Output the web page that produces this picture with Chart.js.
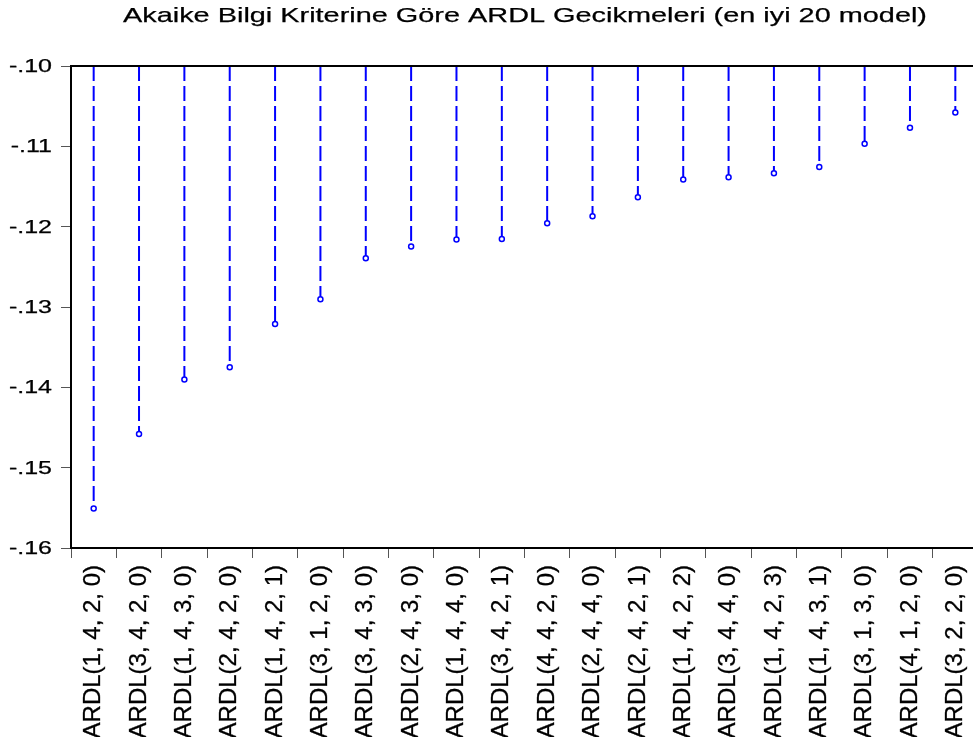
<!DOCTYPE html>
<html>
<head>
<meta charset="utf-8">
<title>ARDL Gecikmeleri</title>
<script src="https://cdn.jsdelivr.net/npm/chart.js@4/dist/chart.umd.min.js"></script>
<style>
  html, body { margin: 0; padding: 0; background: #fff; overflow: hidden; }
  #wrap { position: relative; width: 1000px; height: 737px; }
</style>
</head>
<body>
<div id="wrap"><canvas id="c"></canvas></div>
<script>
// Model labels, ordered from best (lowest AIC) to 20th
const models = [
  'ARDL(1, 4, 2, 0)', 'ARDL(3, 4, 2, 0)', 'ARDL(1, 4, 3, 0)', 'ARDL(2, 4, 2, 0)',
  'ARDL(1, 4, 2, 1)', 'ARDL(3, 1, 2, 0)', 'ARDL(3, 4, 3, 0)', 'ARDL(2, 4, 3, 0)',
  'ARDL(1, 4, 4, 0)', 'ARDL(3, 4, 2, 1)', 'ARDL(4, 4, 2, 0)', 'ARDL(2, 4, 4, 0)',
  'ARDL(2, 4, 2, 1)', 'ARDL(1, 4, 2, 2)', 'ARDL(3, 4, 4, 0)', 'ARDL(1, 4, 2, 3)',
  'ARDL(1, 4, 3, 1)', 'ARDL(3, 1, 3, 0)', 'ARDL(4, 1, 2, 0)', 'ARDL(3, 2, 2, 0)'
];

// Akaike information criterion for each model
const aicValues = [
  -0.15507, -0.14580, -0.13904, -0.13751, -0.13211, -0.12904, -0.12393, -0.12248,
  -0.12161, -0.12152, -0.11957, -0.11870, -0.11634, -0.11413, -0.11385, -0.11335,
  -0.11256, -0.10969, -0.10770, -0.10579
];

// Value axis ticks and their printed form
const yTickValues = [-0.10, -0.11, -0.12, -0.13, -0.14, -0.15, -0.16];
const yTickLabels = ['-.10', '-.11', '-.12', '-.13', '-.14', '-.15', '-.16'];

const chartTitle = 'Akaike Bilgi Kriterine Göre ARDL Gecikmeleri (en iyi 20 model)';

const FONT = '"Liberation Sans", Arial, Helvetica, sans-serif';
const BLUE = '#0000ff';

// Text set in a horizontally widened face, lightly thickened
function wideText(ctx, text, x, y, sx) {
  ctx.save();
  ctx.translate(x, y);
  ctx.scale(sx, 1);
  ctx.lineWidth = 0.25;
  ctx.strokeStyle = '#000';
  ctx.fillText(text, 0, 0);
  ctx.strokeText(text, 0, 0);
  ctx.restore();
}

// Dashed drop lines from the top of the value axis down to each model's value,
// plus the frame line along the top of the plot
const dropLines = {
  id: 'dropLines',
  beforeDatasetsDraw(chart) {
    const { ctx } = chart;
    const x = chart.scales.x, y = chart.scales.y;
    const top = y.getPixelForValue(y.max);
    ctx.save();
    ctx.strokeStyle = BLUE;
    ctx.lineWidth = 2;
    ctx.setLineDash([15, 5]);
    aicValues.forEach((v, i) => {
      const px = x.getPixelForValue(i);
      ctx.beginPath();
      ctx.moveTo(px, top);
      ctx.lineTo(px, y.getPixelForValue(v));
      ctx.stroke();
    });
    ctx.restore();
  },
  afterDraw(chart) {
    const { ctx, chartArea } = chart;
    const y = chart.scales.y;
    ctx.save();
    // top frame line
    ctx.strokeStyle = '#000';
    ctx.lineWidth = 2;
    ctx.beginPath();
    ctx.moveTo(chartArea.left - 1, chartArea.top);
    ctx.lineTo(chartArea.right, chartArea.top);
    ctx.stroke();

    // value axis labels
    ctx.fillStyle = '#000';
    ctx.font = '18px ' + FONT;
    ctx.textAlign = 'right';
    ctx.textBaseline = 'alphabetic';
    yTickValues.forEach((v, i) => {
      wideText(ctx, yTickLabels[i], chartArea.left - 19, y.getPixelForValue(v) + 6, 1.39);
    });

    // title
    ctx.font = '21px ' + FONT;
    ctx.textAlign = 'center';
    wideText(ctx, chartTitle, 525, 22, 1.375);
    ctx.restore();
  }
};

const whiteBg = {
  id: 'whiteBg',
  beforeDraw(chart) {
    const { ctx, width, height } = chart;
    ctx.save();
    ctx.fillStyle = '#fff';
    ctx.fillRect(0, 0, width, height);
    ctx.restore();
  }
};

new Chart(document.getElementById('c'), {
  type: 'line',
  data: {
    labels: models,
    datasets: [{
      data: aicValues,
      showLine: false,
      pointStyle: 'circle',
      pointRadius: 2.5,
      pointBorderWidth: 1.5,
      pointBorderColor: BLUE,
      pointBackgroundColor: '#fff',
      pointHoverRadius: 2.5
    }]
  },
  options: {
    responsive: true,
    maintainAspectRatio: false,
    animation: false,
    events: [],
    layout: { padding: { top: 66, right: 22, left: 0, bottom: 0 } },
    plugins: {
      legend: { display: false },
      title: { display: false },
      tooltip: { enabled: false }
    },
    scales: {
      x: {
        type: 'category',
        offset: true,
        grid: {
          offset: true,
          drawOnChartArea: false,
          drawTicks: true,
          tickLength: 10,
          color: '#555',
          lineWidth: 1
        },
        border: { display: true, color: '#000', width: 2 },
        ticks: {
          autoSkip: false,
          minRotation: 90,
          maxRotation: 90,
          padding: 7,
          color: '#000',
          textStrokeColor: '#000',
          textStrokeWidth: 0.3,
          font: { family: FONT, size: 24 }
        },
        afterFit(scale) { scale.height = 189; }
      },
      y: {
        min: -0.16,
        max: -0.10,
        grid: {
          drawOnChartArea: false,
          drawTicks: true,
          tickLength: 10,
          color: '#555',
          lineWidth: 1
        },
        border: { display: true, color: '#000', width: 2 },
        ticks: { stepSize: 0.01, display: false },
        afterFit(scale) { scale.width = 71; }
      }
    }
  },
  plugins: [whiteBg, dropLines]
});
</script>
</body>
</html>
